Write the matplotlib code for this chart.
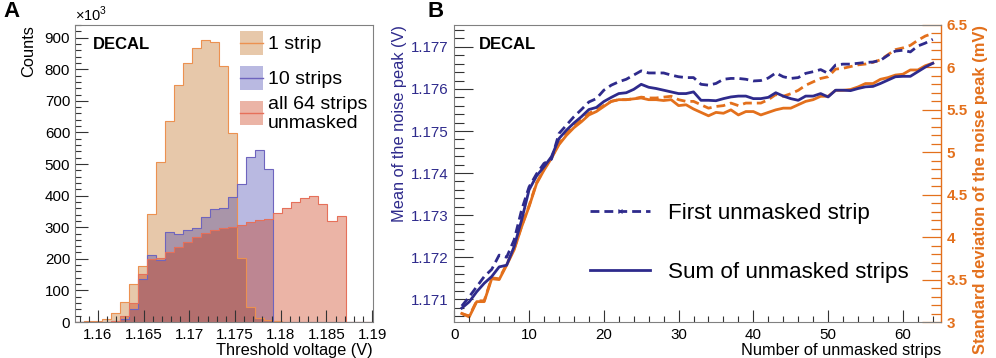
import numpy as np
import matplotlib
matplotlib.use('Agg')
import matplotlib.pyplot as plt
from matplotlib.patches import Rectangle
from matplotlib.lines import Line2D
from matplotlib.ticker import MultipleLocator, FuncFormatter

plt.rcParams['font.family'] = ['Liberation Sans', 'DejaVu Sans']
plt.rcParams['mathtext.fontset'] = 'custom'
plt.rcParams['mathtext.rm'] = 'Liberation Sans'

# ---- panel A: threshold voltage histograms (counts in units of 10^3) ----
bin_start = 1.1575
bin_width = 0.0009865
one_strip = [0, 2, 4, 10, 30, 62, 120, 176, 343, 507, 636, 750, 821, 866, 893, 885,
             811, 597, 204, 49, 14, 5, 2, 0, 0, 0, 0, 0, 0, 0, 0, 0, 0]
ten_strips = [0, 0, 0, 1, 2, 8, 41, 137, 212, 195, 286, 280, 291, 297, 332, 358,
              361, 397, 437, 521, 544, 484, 0, 0, 0, 0, 0, 0, 0, 0, 0, 0, 0]
all_strips = [0, 0, 0, 0, 3, 18, 59, 151, 199, 204, 222, 237, 252, 268, 281, 290,
              296, 302, 308, 316, 322, 326, 346, 362, 381, 392, 400, 374, 320, 334, 0, 0, 0]
hist_labels = ['1 strip', '10 strips', 'all 64 strips\nunmasked']

# ---- panel B: noise peak vs number of unmasked strips ----
n_strips = np.arange(1, 65)
mean_first = [1.17084, 1.17106, 1.17130, 1.17154, 1.17171, 1.17205, 1.17200, 1.17241,
              1.17312, 1.17367, 1.17398, 1.17423, 1.17433, 1.17494, 1.17514, 1.17534,
              1.17551, 1.17569, 1.17577, 1.17597, 1.17609, 1.17617, 1.17623, 1.17633,
              1.17643, 1.17638, 1.17638, 1.17638, 1.17633, 1.17629, 1.17627, 1.17627,
              1.17611, 1.17609, 1.17613, 1.17623, 1.17625, 1.17625, 1.17623, 1.17619,
              1.17620, 1.17626, 1.17638, 1.17629, 1.17625, 1.17627, 1.17637, 1.17641,
              1.17646, 1.17637, 1.17657, 1.17659, 1.17659, 1.17661, 1.17663, 1.17664,
              1.17668, 1.17680, 1.17690, 1.17692, 1.17688, 1.17702, 1.17709, 1.17718]
mean_sum = [1.17079, 1.17094, 1.17118, 1.17138, 1.17154, 1.17177, 1.17181, 1.17225,
            1.17288, 1.17360, 1.17393, 1.17415, 1.17439, 1.17482, 1.17502, 1.17519,
            1.17534, 1.17551, 1.17556, 1.17570, 1.17580, 1.17589, 1.17591, 1.17599,
            1.17611, 1.17604, 1.17601, 1.17597, 1.17593, 1.17589, 1.17589, 1.17593,
            1.17573, 1.17573, 1.17572, 1.17577, 1.17581, 1.17583, 1.17583, 1.17577,
            1.17577, 1.17580, 1.17591, 1.17583, 1.17577, 1.17573, 1.17583, 1.17583,
            1.17589, 1.17581, 1.17597, 1.17597, 1.17596, 1.17601, 1.17605, 1.17606,
            1.17613, 1.17621, 1.17629, 1.17630, 1.17630, 1.17641, 1.17652, 1.17661]
std_first = [3.10, 3.07, 3.25, 3.25, 3.52, 3.51, 3.68, 3.86, 4.13, 4.37, 4.64, 4.80,
             4.94, 5.10, 5.22, 5.31, 5.38, 5.46, 5.50, 5.55, 5.60, 5.62, 5.62, 5.63,
             5.65, 5.64, 5.64, 5.65, 5.66, 5.62, 5.60, 5.60, 5.56, 5.52, 5.54, 5.55,
             5.58, 5.55, 5.58, 5.58, 5.58, 5.62, 5.68, 5.66, 5.69, 5.73, 5.79, 5.83,
             5.87, 5.89, 5.98, 5.99, 6.01, 6.03, 6.04, 6.06, 6.09, 6.15, 6.21, 6.23,
             6.26, 6.32, 6.37, 6.40]
std_sum = [3.10, 3.06, 3.24, 3.24, 3.51, 3.50, 3.67, 3.85, 4.12, 4.36, 4.63, 4.79,
           4.93, 5.09, 5.20, 5.29, 5.36, 5.44, 5.48, 5.54, 5.60, 5.62, 5.62, 5.63,
           5.64, 5.62, 5.62, 5.61, 5.62, 5.55, 5.56, 5.51, 5.47, 5.43, 5.47, 5.46,
           5.50, 5.44, 5.48, 5.48, 5.44, 5.47, 5.50, 5.52, 5.52, 5.56, 5.60, 5.62,
           5.66, 5.66, 5.73, 5.73, 5.74, 5.77, 5.81, 5.81, 5.86, 5.88, 5.91, 5.92,
           5.97, 5.97, 6.02, 6.05]

fill_cols = ['#bd620c', '#3737a9', '#c62900']
fill_alpha = 0.35
edge_cols = ['#ec9150', '#6e64be', '#e6705a']
blue = '#2e2a8c'
orange = '#e3701c'
frame = '#808080'
dash = (0, (3.2, 1.8))

fig = plt.figure(figsize=(9.96, 3.58), dpi=100)
axA = fig.add_axes([75 / 996, 36 / 358, 298 / 996, 297 / 358])
axB = fig.add_axes([454.3 / 996, 36 / 358, 486.7 / 996, 297 / 358])

# ---------------- panel A ----------------
edges = bin_start + bin_width * np.arange(len(one_strip) + 1)
for vals, fc in zip([one_strip, ten_strips, all_strips], fill_cols):
    axA.stairs(vals, edges, fill=True, color=fc, alpha=fill_alpha, linewidth=0)
for vals, ec in zip([one_strip, ten_strips, all_strips], edge_cols):
    axA.stairs(vals, edges, color=ec, linewidth=0.8, baseline=0)

axA.set_xlim(1.1575, 1.1901)
axA.set_ylim(0, 940)
axA.xaxis.set_major_locator(MultipleLocator(0.005))
axA.xaxis.set_minor_locator(MultipleLocator(0.001))
axA.yaxis.set_major_locator(MultipleLocator(100))
axA.yaxis.set_minor_locator(MultipleLocator(20))
axA.xaxis.set_major_formatter(FuncFormatter(lambda v, p: '%g' % round(v, 4)))
axA.tick_params(which='both', direction='in', top=False, right=False,
                labelsize=10.9, color='#333333')
axA.tick_params(which='major', length=9, width=0.8)
axA.tick_params(which='minor', length=4.5, width=0.8)
axA.tick_params(axis='x', pad=4)
for s in axA.spines.values():
    s.set_color(frame)
    s.set_linewidth(0.8)
axA.set_xlabel('Threshold voltage (V)', loc='right', fontsize=11.8, labelpad=1)
axA.set_ylabel('Counts', loc='top', fontsize=11.8, labelpad=6)
axA.text(0.0, 1.005, r'$\times10^{3}$', transform=axA.transAxes, fontsize=10.5,
         ha='left', va='bottom')
axA.text(0.06, 0.935, 'DECAL', transform=axA.transAxes, fontsize=12,
         fontweight='bold', va='center')

# legend drawn as boxes with a line through them (ROOT style)
box_tops = [0.899, 0.781, 0.663]
text_y = [0.936, 0.818, 0.699]
for fc, ec, lab, y0, ty in zip(fill_cols, edge_cols, hist_labels, box_tops, text_y):
    axA.add_patch(Rectangle((0.554, y0), 0.077, 0.082, transform=axA.transAxes,
                            facecolor=fc, alpha=fill_alpha, linewidth=0))
    axA.add_line(Line2D([0.554, 0.631], [y0 + 0.041, y0 + 0.041],
                        transform=axA.transAxes, color=ec, linewidth=1.0))
    axA.text(0.648, ty, lab, transform=axA.transAxes, fontsize=14,
             va='center', ha='left', linespacing=1.15)

# ---------------- panel B ----------------
axR = axB.twinx()
axR.plot(n_strips, std_first, color=orange, linewidth=2.0, linestyle=dash)
axR.plot(n_strips, std_sum, color=orange, linewidth=2.0)
axB.plot(n_strips, mean_first, color=blue, linewidth=2.0, linestyle=dash)
axB.plot(n_strips, mean_sum, color=blue, linewidth=2.0)
axB.set_zorder(axR.get_zorder() + 1)
axB.patch.set_visible(False)

axB.set_xlim(0, 65.1)
axB.set_ylim(1.17046, 1.17752)
axR.set_ylim(3, 6.5)
axB.xaxis.set_major_locator(MultipleLocator(10))
axB.xaxis.set_minor_locator(MultipleLocator(2))
axB.yaxis.set_major_locator(MultipleLocator(0.001))
axB.yaxis.set_minor_locator(MultipleLocator(0.0002))
axB.yaxis.set_major_formatter(FuncFormatter(lambda v, p: '%.3f' % v))
axR.yaxis.set_major_locator(MultipleLocator(0.5))
axR.yaxis.set_minor_locator(MultipleLocator(0.1))
axR.yaxis.set_major_formatter(FuncFormatter(lambda v, p: '%g' % v))

axB.tick_params(which='both', direction='in', top=False, right=False,
                labelsize=10.9, color='#333333')
axB.tick_params(axis='x', which='major', length=9, width=0.8, pad=4)
axB.tick_params(axis='x', which='minor', length=4.5, width=0.8)
axB.tick_params(axis='y', which='major', length=14, width=0.8, labelcolor=blue, pad=4)
axB.tick_params(axis='y', which='minor', length=7, width=0.8)
axR.tick_params(which='both', direction='in', color=orange, labelcolor=orange,
                labelsize=10.9, width=0.9)
axR.tick_params(which='major', length=14, pad=4)
axR.tick_params(which='minor', length=7)
for lab in axR.get_yticklabels():
    lab.set_fontweight('bold')
for s in axB.spines.values():
    s.set_color(frame)
    s.set_linewidth(0.8)
for s in axR.spines.values():
    s.set_visible(False)
axR.spines['right'].set_visible(True)
axR.spines['right'].set_color(orange)
axR.spines['right'].set_linewidth(1.0)
axB.spines['right'].set_visible(False)

axB.set_xlabel('Number of unmasked strips', loc='right', fontsize=11.8, labelpad=1)
axB.set_ylabel('Mean of the noise peak (V)', loc='top', fontsize=11.8,
               color=blue, labelpad=3)
axR.set_ylabel('Standard deviation of the noise peak (mV)', loc='top', fontsize=11.9,
               color=orange, fontweight='bold', labelpad=4)
axB.text(0.051, 0.935, 'DECAL', transform=axB.transAxes, fontsize=12,
         fontweight='bold', va='center')

handles = [Line2D([], [], color=blue, linewidth=2.0, linestyle=dash,
                  marker='x', markersize=2.5, markeredgewidth=0.8),
           Line2D([], [], color=blue, linewidth=2.0)]
axB.legend(handles, ['First unmasked strip', 'Sum of unmasked strips'],
           loc='upper left', bbox_to_anchor=(0.279, 0.402), borderaxespad=0,
           borderpad=0, frameon=False, fontsize=16.1, handlelength=2.7,
           handletextpad=0.8, labelspacing=1.73)

fig.text(3 / 996, 1 - 1 / 358, 'A', fontsize=16, fontweight='bold', va='top', ha='left')
fig.text(427 / 996, 1 - 1 / 358, 'B', fontsize=16, fontweight='bold', va='top', ha='left')

fig.savefig('out.png', dpi=100)
